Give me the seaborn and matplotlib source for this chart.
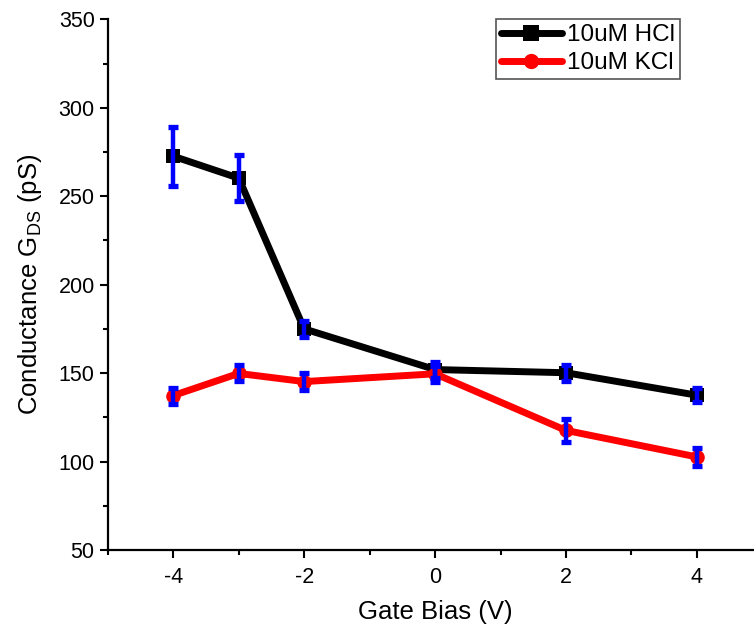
import numpy as np
import pandas as pd
import matplotlib
matplotlib.use("Agg")
import matplotlib.pyplot as plt
from matplotlib.ticker import MultipleLocator
from matplotlib.lines import Line2D
import seaborn as sns

gate_bias = [-4, -3, -2, 0, 2, 4]
hcl_values = [272.6, 260.2, 175.0, 152.0, 150.2, 137.5]
hcl_errors = [16.7, 13.0, 4.5, 4.5, 4.5, 4.0]
kcl_values = [137.3, 149.8, 145.2, 149.6, 117.6, 102.6]
kcl_errors = [4.5, 4.5, 5.0, 4.5, 6.5, 5.0]
series_names = ["10uM HCl", "10uM KCl"]
series_colors = ["#000000", "#ff0000"]
series_markers = ["s", "o"]

sns.set_theme(style="ticks")
plt.rcParams["font.family"] = ["Liberation Sans", "DejaVu Sans"]
plt.rcParams["mathtext.fontset"] = "custom"
plt.rcParams["mathtext.rm"] = "Liberation Sans"
plt.rcParams["axes.unicode_minus"] = False
plt.rcParams["text.color"] = "black"
plt.rcParams["axes.labelcolor"] = "black"
plt.rcParams["xtick.color"] = "black"
plt.rcParams["ytick.color"] = "black"

df = pd.DataFrame({
    "Gate Bias": gate_bias * 2,
    "G": hcl_values + kcl_values,
    "series": [series_names[0]] * len(gate_bias) + [series_names[1]] * len(gate_bias),
})

fig = plt.figure(figsize=(7.54, 6.31), dpi=100)
ax = fig.add_axes([0.143, 0.1284, 0.868, 0.841])

sns.lineplot(data=df, x="Gate Bias", y="G", hue="series", style="series",
             palette=dict(zip(series_names, series_colors)),
             markers=dict(zip(series_names, series_markers)),
             dashes=False, linewidth=5, markersize=10.5, markeredgewidth=0,
             ax=ax, legend=False, zorder=3)

for vals, errs in [(hcl_values, hcl_errors), (kcl_values, kcl_errors)]:
    ax.errorbar(gate_bias, vals, yerr=errs, fmt="none", ecolor="#0000ff",
                elinewidth=3.2, capsize=3.8, capthick=3.8, zorder=4)

ax.set_xlim(-5, 5)
ax.set_ylim(50, 350)
ax.xaxis.set_major_locator(MultipleLocator(2))
ax.xaxis.set_minor_locator(MultipleLocator(1))
ax.yaxis.set_major_locator(MultipleLocator(50))
ax.yaxis.set_minor_locator(MultipleLocator(25))
ax.tick_params(which="major", length=6, width=1.5, direction="out", labelsize=15.5)
ax.tick_params(which="minor", length=3.5, width=1.5, direction="out")
ax.tick_params(axis="x", which="major", pad=6)
for s in ["top", "right"]:
    ax.spines[s].set_visible(False)
for s in ["left", "bottom"]:
    ax.spines[s].set_linewidth(1.6)
    ax.spines[s].set_color("black")

ax.set_xlabel("Gate Bias (V)", fontsize=18.5, labelpad=9)
ax.set_ylabel(r"Conductance G$_{\mathregular{DS}}$ (pS)", fontsize=18.5, labelpad=10)

handles = [Line2D([0], [0], color=c, marker=m, lw=5, markersize=11, markeredgewidth=0)
           for c, m in zip(series_colors, series_markers)]
leg = ax.legend(handles, series_names, loc="upper left", bbox_to_anchor=(0.5935, 1.0),
                frameon=True, fancybox=False, edgecolor="#555555", framealpha=1,
                handlelength=2.5, handletextpad=0.2, borderpad=0.2, labelspacing=0.25,
                borderaxespad=0.0, prop={"family": "Liberation Sans", "size": 17.5})
leg.get_frame().set_linewidth(1.2)

fig.savefig("out.png", dpi=100)
